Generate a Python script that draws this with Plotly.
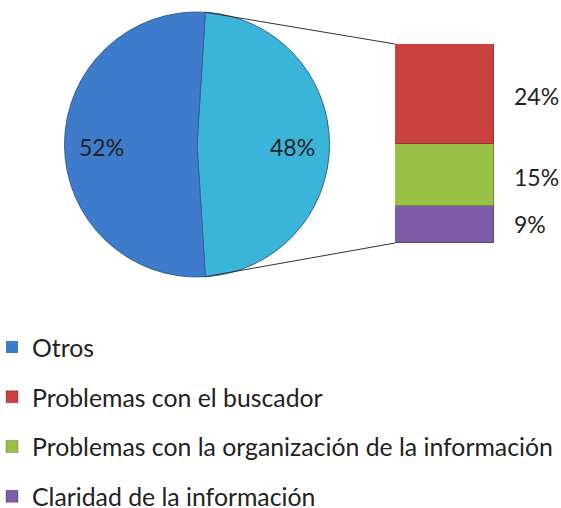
import math
import plotly.graph_objects as go

# ---- data ----
pie_labels = ["Otros", "Resto"]
pie_values = [52, 48]
bar_labels = ["Problemas con el buscador",
              "Problemas con la organización de la información",
              "Claridad de la información"]
bar_values = [24, 15, 9]

# ---- styling ----
W, H = 561, 508
FONT = "Lato"
FS = 24.8
FS_LBL = 23
C_OTROS = "#3E7BCB"
C_REST = "#3AB4D9"
BAR_COLORS = ["#C9423E", "#98C146", "#7D5BA7"]
TXT = "#222222"

# pie geometry in pixels
cx, cy, r = 197, 144.5, 132.5
# bar geometry in pixels
bx0, bx1, by0, by1 = 395, 494, 44, 243

def px(x):
    return x / W

def py(y):
    return 1 - y / H

rest_share = pie_values[1] / sum(pie_values)
rotation = 90 - rest_share * 360 / 2  # centre the "rest" slice at 3 o'clock

fig = go.Figure()

fig.add_trace(go.Pie(
    labels=[pie_labels[1], pie_labels[0]],
    values=[pie_values[1], pie_values[0]],
    sort=False, direction="clockwise", rotation=rotation,
    marker=dict(colors=[C_REST, C_OTROS], line=dict(color="#34608F", width=1)),
    textinfo="none", showlegend=False,
    domain=dict(x=[px(cx - r), px(cx + r)], y=[py(cy + r), py(cy - r)]),
))

# legend-only entry for "Otros"
fig.add_trace(go.Bar(x=[0], y=[0], name=pie_labels[0], marker=dict(color=C_OTROS, line=dict(width=0)),
                     legendrank=1, legendgroup="g0", width=1))

# stacked bar: bottom -> top
order = [2, 1, 0]
for i in order:
    fig.add_trace(go.Bar(
        x=[0], y=[bar_values[i]], name=bar_labels[i], width=1,
        marker=dict(color=BAR_COLORS[i], line=dict(color="rgba(0,0,0,0.25)", width=1)),
        legendrank=2 + i, legendgroup=f"g{i+1}",
    ))

total_bar = sum(bar_values)
annotations = []
# bar labels
cum = 0
for i in order:
    mid = cum + bar_values[i] / 2
    cum += bar_values[i]
    annotations.append(dict(
        x=1.18, xref="x domain", y=mid, yref="y", yshift=-2 if i < 2 else 0,
        text=f"{bar_values[i]}%", showarrow=False, xanchor="left", yanchor="middle",
        font=dict(family=FONT, size=FS_LBL, color=TXT),
    ))

# pie labels
start = rotation
vals = [pie_values[1], pie_values[0]]
texts = [f"{pie_values[1]}%", f"{pie_values[0]}%"]
tot = sum(vals)
for v, t in zip(vals, texts):
    span = v / tot * 360
    mid = math.radians(start + span / 2)
    start += span
    lx = cx + 0.72 * r * math.sin(mid)
    ly = cy - 0.72 * r * math.cos(mid) + 2.5
    annotations.append(dict(
        x=px(lx), y=py(ly), xref="paper", yref="paper", text=t, showarrow=False,
        xanchor="center", yanchor="middle",
        font=dict(family=FONT, size=FS_LBL, color=TXT),
    ))

# connector lines from the "rest" slice edges to the bar
a0 = math.radians(rotation)
a1 = math.radians(rotation + rest_share * 360)
p0 = (cx + r * math.sin(a0), cy - r * math.cos(a0))
p1 = (cx + r * math.sin(a1), cy - r * math.cos(a1))
shapes = [
    dict(type="line", xref="paper", yref="paper", x0=px(p0[0]), y0=py(p0[1]), x1=px(bx0), y1=py(by0),
         line=dict(color="#333333", width=1)),
    dict(type="line", xref="paper", yref="paper", x0=px(p1[0]), y0=py(p1[1]), x1=px(bx0), y1=py(by1),
         line=dict(color="#333333", width=1)),
]

fig.update_layout(
    width=W, height=H, margin=dict(l=0, r=0, t=0, b=0, autoexpand=False),
    paper_bgcolor="white", plot_bgcolor="rgba(0,0,0,0)",
    barmode="stack", bargap=0,
    xaxis=dict(domain=[px(bx0), px(bx1)], range=[-0.5, 0.5], visible=False, fixedrange=True),
    yaxis=dict(domain=[py(by1), py(by0)], range=[0, total_bar], visible=False, fixedrange=True),
    legend=dict(x=px(-8), xanchor="left", y=py(324.5), yanchor="top",
                font=dict(family=FONT, size=FS, color=TXT),
                tracegroupgap=14.5, traceorder="grouped", bgcolor="rgba(0,0,0,0)"),
    annotations=annotations, shapes=shapes,
    font=dict(family=FONT),
)

fig.write_html("out.html", config={"displayModeBar": False},
               post_script="document.body.style.margin='0';")
